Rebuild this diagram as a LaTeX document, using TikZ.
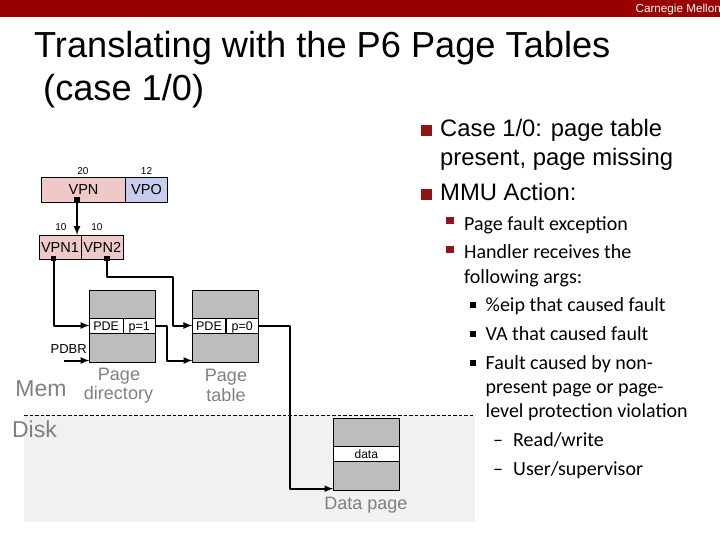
\documentclass[tikz,border=0pt]{standalone}
\usepackage{fontspec}
\setmainfont{Liberation Sans}
\newfontfamily\calfont{Carlito}
\usepackage{xcolor}
\usetikzlibrary{arrows}
\definecolor{cmured}{HTML}{990000}
\definecolor{bulletred}{HTML}{8F1414}
\definecolor{vpnpink}{HTML}{EFC8C8}
\definecolor{vpoblue}{HTML}{C8CCEE}
\definecolor{pagegrey}{HTML}{BDBDBD}
\definecolor{diskgrey}{HTML}{F1F1F1}
\definecolor{labelgrey}{HTML}{808080}
\tikzset{>=latex}
\tikzset{
  field/.style={draw=black,line width=0.7pt,inner sep=0pt,outer sep=0pt,minimum height=25pt,text height=10.4pt,text depth=0pt,font=\fontsize{14.5}{14.5}\selectfont},
  pagebox/.style={draw=black,fill=pagegrey,line width=0.7pt,inner sep=0pt,outer sep=0pt,minimum width=66pt,minimum height=72pt},
  rowcell/.style={draw=black,fill=white,line width=0.7pt,inner sep=0pt,outer sep=0pt,minimum height=15pt,text height=9pt,text depth=0pt,font=\fontsize{12.5}{12.5}\selectfont},
  tapdot/.style={fill=black,inner sep=0pt,minimum size=5.5pt},
  wire/.style={line width=2pt,line join=round,black},
  bits/.style={inner sep=0pt,font=\fontsize{10}{10}\selectfont},
  greylabel/.style={inner sep=0pt,text=labelgrey,font=\fontsize{18}{18}\selectfont},
  biglabel/.style={inner sep=0pt,text=labelgrey,font=\fontsize{23}{23}\selectfont},
  titleline/.style={anchor=base west,inner sep=0pt,font=\fontsize{36.2}{36.2}\selectfont},
  caseline/.style={anchor=base west,inner sep=0pt,font=\fontsize{23.8}{23.8}\selectfont},
  subline/.style={anchor=base west,inner sep=0pt,font=\calfont\fontsize{20}{20}\selectfont},
  bigbullet/.style={fill=bulletred,inner sep=0pt,minimum size=11.5pt},
  midbullet/.style={fill=bulletred,inner sep=0pt,minimum size=7.5pt},
  tinybullet/.style={fill=black,inner sep=0pt,minimum size=6pt},
}
\begin{document}
\begin{tikzpicture}[x=1pt,y=-1pt]
\useasboundingbox (0,0) rectangle (720,540);
% header and title
\fill[cmured] (0,0) rectangle (720,17.5);
\node[anchor=base east,inner sep=0pt,text=white,font=\fontsize{11.7}{11.7}\selectfont] (cmu) at (721,12.5) {Carnegie Mellon};
\node[titleline] (title1) at (34,58) {Translating with the P6 Page Tables};
\node[titleline] (title2) at (43,101) {(case 1/0)};
% disk area
\fill[diskgrey] (24,415) rectangle (475,522);
\draw[dashed,line width=0.6pt,dash pattern=on 3.5pt off 2pt] (24,415) -- (475,415);
\node[biglabel] (mem) at (41,389) {Mem};
\node[biglabel] (disk) at (34.5,429) {Disk};
% address fields
\node[bits] (bits20) at (83,171.5) {20};
\node[bits] (bits12) at (146.5,171.5) {12};
\node[field,fill=vpnpink,minimum width=84pt] (vpn) at (83.5,189.5) {VPN};
\node[field,fill=vpoblue,minimum width=42pt] (vpo) at (146.5,189.5) {VPO};
\node[bits] (bits1) at (61,227) {10};
\node[bits] (bits2) at (97,227) {10};
\node[field,fill=vpnpink,minimum width=42pt,minimum height=24pt] (vpn1) at (60,247) {VPN1};
\node[field,fill=vpnpink,minimum width=42.5pt,minimum height=24pt] (vpn2) at (102.2,247) {VPN2};
% page directory
\node[pagebox] (dir) at (122.6,326) {};
\node[rowcell,minimum width=33.5pt] (pde1) at (106.2,325.5) {PDE};
\node[rowcell,minimum width=32.7pt] (p1) at (139.3,325.5) {p=1};
\node[inner sep=0pt,anchor=east,font=\fontsize{13}{13}\selectfont] (pdbr) at (87,349.5) {PDBR};
\node[greylabel] (pagedir1) at (119,376) {Page};
\node[greylabel] (pagedir2) at (118.5,395) {directory};
% page table
\node[pagebox] (tbl) at (225.5,326) {};
\node[rowcell,minimum width=33.5pt] (pde2) at (209,325.5) {PDE};
\node[rowcell,minimum width=32.7pt] (p0) at (242.3,325.5) {p=0};
\node[greylabel] (pagetbl1) at (226,377) {Page};
\node[greylabel] (pagetbl2) at (226,395) {table};
% data page
\node[pagebox] (datapg) at (366.3,454) {};
\node[rowcell,minimum width=66pt,font=\fontsize{12}{12}\selectfont] (data) at (366.3,453.5) {data};
\node[greylabel] (datalbl) at (366,505) {Data page};
% connectors
\node[tapdot] (vpndot) at (77,199.5) {};
\node[tapdot] (vpn1dot) at (53.5,258.5) {};
\node[tapdot] (vpn2dot) at (107,258.5) {};
\coordinate (bendA) at (173,276.7);
\coordinate (bendB) at (167,325.5);
\coordinate (bendC) at (290,325.5);
\coordinate (pdbrin) at (64,360.5);
\coordinate (dirin) at (89.5,360.5);
\coordinate (tblin) at (192.5,360.5);
\coordinate (datain) at (333.3,488.7);
\draw[wire,->] (vpndot) -- (vpn1.north -| vpndot);
\draw[wire,->] (vpn1dot) |- (pde1.west);
\draw[wire,->] (vpn2dot) |- (bendA) |- (pde2.west);
\draw[wire,->] (p1.east) -- (bendB) |- (tblin);
\draw[wire,->] (pdbrin) -- (dirin);
\draw[wire,->] (p0.east) -- (bendC) |- (datain);
% case text
\node[bigbullet] (b1) at (426.3,130.5) {};
\node[bigbullet] (b2) at (426.3,194.5) {};
\node[caseline] (case1) at (440,136.5) {Case 1/0: page table};
\node[caseline] (case2) at (440,165.3) {present, page missing};
\node[caseline] (case3) at (440,200.3) {MMU Action:};
\node[midbullet] (b3) at (450,220.5) {};
\node[midbullet] (b4) at (450,249.5) {};
\node[subline] (sub1) at (464,230) {Page fault exception};
\node[subline] (sub2) at (464,258.5) {Handler receives the};
\node[subline] (sub3) at (464,283) {following args:};
\node[tinybullet] (b5) at (473,305) {};
\node[tinybullet] (b6) at (473,334) {};
\node[tinybullet] (b7) at (473,363) {};
\node[subline] (arg1) at (485.5,311) {\%eip that caused fault};
\node[subline] (arg2) at (485.5,340) {VA that caused fault};
\node[subline] (arg3) at (485.5,369.5) {Fault caused by non-};
\node[subline] (arg4) at (485.5,393.5) {present page or page-};
\node[subline] (arg5) at (485.5,417) {level protection violation};
\node[subline] (dash1) at (493,446) {–};
\node[subline] (dash2) at (493,475) {–};
\node[subline] (rw) at (513,446) {Read/write};
\node[subline] (us) at (513,475) {User/supervisor};
\end{tikzpicture}
\end{document}
